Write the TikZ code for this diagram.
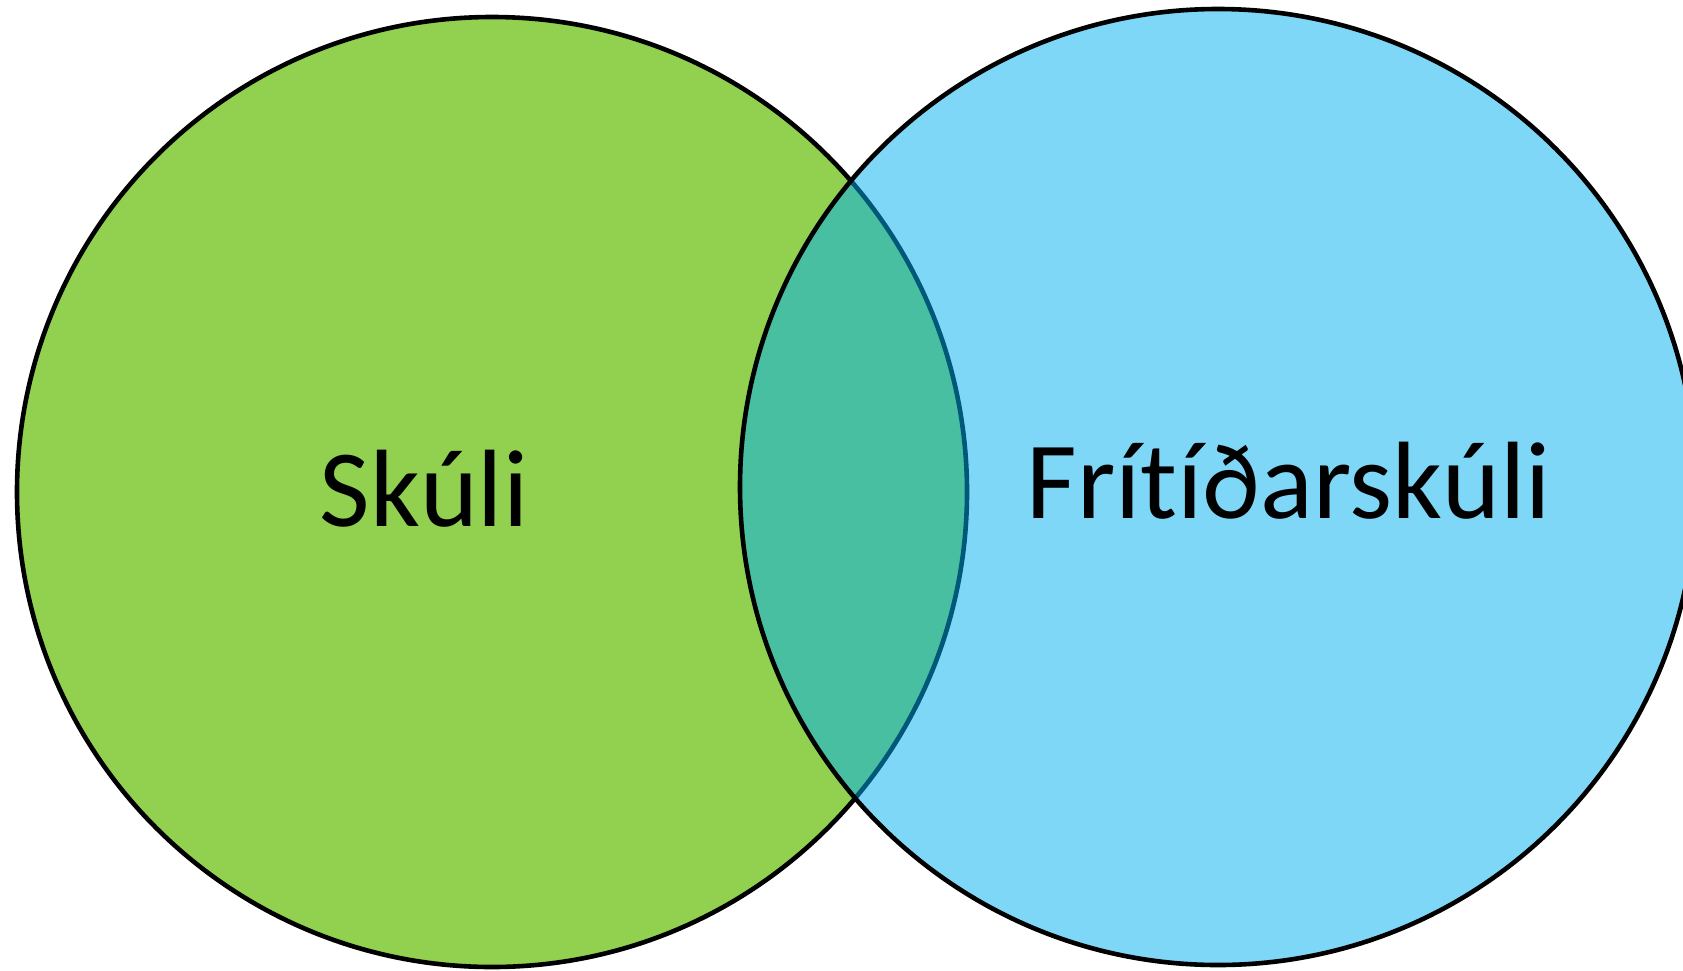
\documentclass[tikz,border=0pt]{standalone}
\usepackage{fontspec}
\setmainfont{Carlito}[Ligatures=NoCommon]
\usetikzlibrary{backgrounds}

\definecolor{skolagraen}{RGB}{146,208,80}
\definecolor{fristundblar}{RGB}{0,176,240}

\begin{document}
\begin{tikzpicture}[x=1pt,y=-1pt]
                    \useasboundingbox (0,0) rectangle (1683,970);

                    \draw[line width=4.6pt, fill=skolagraen] (492,492) circle[radius=475pt];
                    \draw[line width=4.6pt, fill=fristundblar, fill opacity=0.5] (1218,487) circle[radius=478pt];

                    \node[anchor=base, font=\fontsize{110}{132}\selectfont] (skuli) at (424,526) {Skúli};
                    \node[anchor=base, font=\fontsize{110}{132}\selectfont] (fristund) at (1289,518) {Frítíðarskúli};
                \end{tikzpicture}
\end{document}
